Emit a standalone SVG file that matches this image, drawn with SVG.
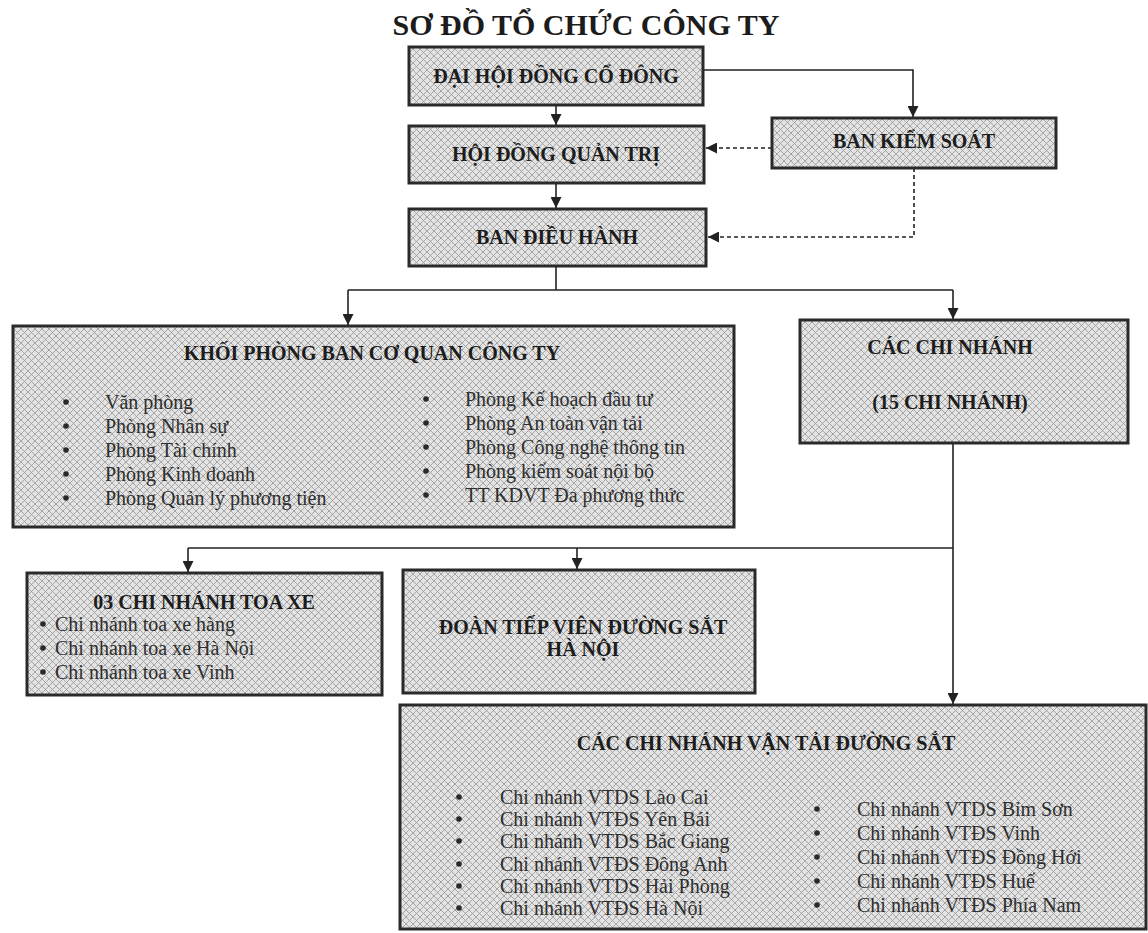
<svg xmlns="http://www.w3.org/2000/svg" width="1148" height="933" viewBox="0 0 1148 933">
<defs>
<pattern id="hatch" width="7" height="7" patternUnits="userSpaceOnUse">
<rect width="7" height="7" fill="#e3e3e3"/>
<path d="M0,0 L7,7 M7,0 L0,7" stroke="#979797" stroke-width="0.8"/>
</pattern>
<marker id="ah" viewBox="0 0 10 10" refX="10" refY="5" markerWidth="11" markerHeight="11" markerUnits="userSpaceOnUse" orient="auto">
<path d="M0,0 L10,5 L0,10 z" fill="#222"/>
</marker>
<style>
.box{fill:url(#hatch);stroke:#2a2a2a;stroke-width:3}
.hd{font-family:"Liberation Serif",serif;font-weight:bold;font-size:20px;fill:#1c1c1c;text-anchor:middle}
.it{font-family:"Liberation Serif",serif;font-size:20px;fill:#2e2e2e}
.bul{fill:#2a2a2a}
.ln{fill:none;stroke:#222;stroke-width:1.6}
.ar{marker-end:url(#ah)}
.da{stroke-dasharray:4 3}
</style>
</defs>
<rect width="1148" height="933" fill="#ffffff"/>
<text x="586" y="35" font-family="Liberation Serif, serif" font-weight="bold" font-size="30" fill="#1c1c1c" text-anchor="middle">SƠ ĐỒ TỔ CHỨC CÔNG TY</text>

<g id="connectors">
<path class="ln ar" d="M703,70 H913 V117"/>
<path class="ln ar" d="M556,105 V125"/>
<path class="ln ar" d="M556,183 V208"/>
<path class="ln ar da" d="M772,148 H706"/>
<path class="ln ar da" d="M914,168 V237 H708"/>
<path class="ln" d="M556,266 V290 M348,290 H953"/>
<path class="ln ar" d="M348,290 V325"/>
<path class="ln ar" d="M953,290 V319"/>
<path class="ln ar" d="M953,443 V704"/>
<path class="ln" d="M188,548 H953"/>
<path class="ln ar" d="M188,548 V572"/>
<path class="ln ar" d="M577,548 V569"/>
</g>

<g id="dai-hoi-dong-co-dong">
<rect class="box" x="409" y="47" width="294" height="58"/>
<text class="hd" x="556" y="83">ĐẠI HỘI ĐỒNG CỔ ĐÔNG</text>
</g>

<g id="hoi-dong-quan-tri">
<rect class="box" x="409" y="126" width="295" height="57"/>
<text class="hd" x="556" y="161">HỘI ĐỒNG QUẢN TRỊ</text>
</g>

<g id="ban-dieu-hanh">
<rect class="box" x="409" y="209" width="297" height="57"/>
<text class="hd" x="557" y="244">BAN ĐIỀU HÀNH</text>
</g>

<g id="ban-kiem-soat">
<rect class="box" x="772" y="118" width="284" height="50"/>
<text class="hd" x="914" y="148">BAN KIỂM SOÁT</text>
</g>

<g id="khoi-phong-ban">
<rect class="box" x="13" y="326" width="721" height="201"/>
<text class="hd" x="372" y="360">KHỐI PHÒNG BAN CƠ QUAN CÔNG TY</text>
<g class="bul">
<circle cx="66" cy="402" r="2.8"/><circle cx="66" cy="426" r="2.8"/><circle cx="66" cy="450" r="2.8"/><circle cx="66" cy="474" r="2.8"/><circle cx="66" cy="498" r="2.8"/>
<circle cx="426" cy="399" r="2.8"/><circle cx="426" cy="423" r="2.8"/><circle cx="426" cy="447" r="2.8"/><circle cx="426" cy="471" r="2.8"/><circle cx="426" cy="495" r="2.8"/>
</g>
<text class="it" x="105" y="409">Văn phòng</text>
<text class="it" x="105" y="433">Phòng Nhân sự</text>
<text class="it" x="105" y="457">Phòng Tài chính</text>
<text class="it" x="105" y="481">Phòng Kinh doanh</text>
<text class="it" x="105" y="505">Phòng Quản lý phương tiện</text>
<text class="it" x="465" y="406">Phòng Kế hoạch đầu tư</text>
<text class="it" x="465" y="430">Phòng An toàn vận tải</text>
<text class="it" x="465" y="454">Phòng Công nghệ thông tin</text>
<text class="it" x="465" y="478">Phòng kiểm soát nội bộ</text>
<text class="it" x="465" y="502">TT KDVT Đa phương thức</text>
</g>

<g id="cac-chi-nhanh">
<rect class="box" x="800" y="320" width="328" height="123"/>
<text class="hd" x="950" y="354">CÁC CHI NHÁNH</text>
<text class="hd" x="950" y="409">(15 CHI NHÁNH)</text>
</g>

<g id="chi-nhanh-toa-xe">
<rect class="box" x="27" y="573" width="355" height="122"/>
<text class="hd" x="204" y="609">03 CHI NHÁNH TOA XE</text>
<g class="bul">
<circle cx="43" cy="624" r="2.8"/><circle cx="43" cy="648" r="2.8"/><circle cx="43" cy="672" r="2.8"/>
</g>
<text class="it" x="55" y="631">Chi nhánh toa xe hàng</text>
<text class="it" x="55" y="655">Chi nhánh toa xe Hà Nội</text>
<text class="it" x="55" y="679">Chi nhánh toa xe Vinh</text>
</g>

<g id="doan-tiep-vien">
<rect class="box" x="403" y="570" width="352" height="123"/>
<text class="hd" x="583" y="634">ĐOÀN TIẾP VIÊN ĐƯỜNG SẮT</text>
<text class="hd" x="583" y="656">HÀ NỘI</text>
</g>

<g id="chi-nhanh-van-tai">
<rect class="box" x="400" y="705" width="746" height="224"/>
<text class="hd" x="766" y="750">CÁC CHI NHÁNH VẬN TẢI ĐƯỜNG SẮT</text>
<g class="bul">
<circle cx="459" cy="797" r="2.8"/><circle cx="459" cy="819" r="2.8"/><circle cx="459" cy="841" r="2.8"/><circle cx="459" cy="864" r="2.8"/><circle cx="459" cy="886" r="2.8"/><circle cx="459" cy="908" r="2.8"/>
<circle cx="817" cy="809" r="2.8"/><circle cx="817" cy="833" r="2.8"/><circle cx="817" cy="857" r="2.8"/><circle cx="817" cy="881" r="2.8"/><circle cx="817" cy="905" r="2.8"/>
</g>
<text class="it" x="500" y="804">Chi nhánh VTDS Lào Cai</text>
<text class="it" x="500" y="826">Chi nhánh VTĐS Yên Bái</text>
<text class="it" x="500" y="848">Chi nhánh VTDS Bắc Giang</text>
<text class="it" x="500" y="871">Chi nhánh VTĐS Đông Anh</text>
<text class="it" x="500" y="893">Chi nhánh VTDS Hải Phòng</text>
<text class="it" x="500" y="915">Chi nhánh VTĐS Hà Nội</text>
<text class="it" x="857" y="816">Chi nhánh VTDS Bỉm Sơn</text>
<text class="it" x="857" y="840">Chi nhánh VTĐS Vinh</text>
<text class="it" x="857" y="864">Chi nhánh VTĐS Đồng Hới</text>
<text class="it" x="857" y="888">Chi nhánh VTĐS Huế</text>
<text class="it" x="857" y="912">Chi nhánh VTĐS Phía Nam</text>
</g>
</svg>
